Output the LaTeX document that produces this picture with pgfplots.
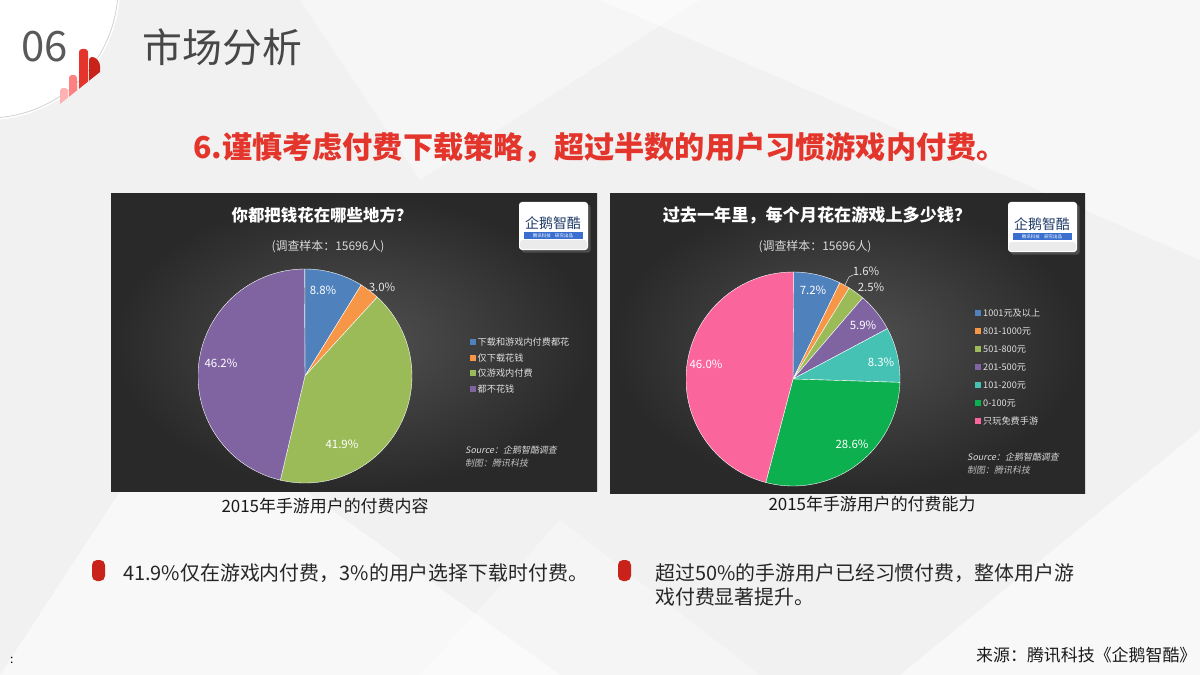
\documentclass[border=0pt]{standalone}
\usepackage{pgfplots}
\pgfplotsset{compat=1.18}
\usepackage{pgfplotstable}
\usepackage{fontspec}
\setmainfont{Noto Sans CJK SC}
\newfontfamily\slantfont{Noto Sans CJK SC}[FakeSlant=0.2]
\usetikzlibrary{shadows}

\definecolor{pBlue}{HTML}{4F81BD}
\definecolor{pOrange}{HTML}{F79646}
\definecolor{pGreen}{HTML}{9BBB59}
\definecolor{pPurple}{HTML}{8064A2}
\definecolor{pTeal}{HTML}{45C2B3}
\definecolor{pDGreen}{HTML}{0DB04F}
\definecolor{pPink}{HTML}{FA659B}
\definecolor{titleRed}{HTML}{E3352B}
\definecolor{bulletRed}{HTML}{C8221A}
\definecolor{bgGray}{HTML}{F1F1F1}
\definecolor{logoNavy}{HTML}{1F3A68}
\definecolor{logoBlue}{HTML}{3A6FD0}

\pgfplotstableread{
value color
8.8 pBlue
3.0 pOrange
41.9 pGreen
46.2 pPurple
}\tabA
\pgfplotstableread{
value color
7.2 pBlue
1.6 pOrange
2.5 pGreen
5.9 pPurple
8.3 pTeal
28.6 pDGreen
46.0 pPink
}\tabB

\newcommand\pieslices[2]{%
  \pgfplotstablegetrowsof{#1}\pgfmathtruncatemacro\nrows{\pgfplotsretval-1}%
  \gdef\cum{0}%
  \pgfplotsforeachungrouped \i in {0,...,\nrows}{%
    \pgfplotstablegetelem{\i}{value}\of{#1}\let\pv\pgfplotsretval
    \pgfplotstablegetelem{\i}{color}\of{#1}\let\pc\pgfplotsretval
    \pgfmathsetmacro\sa{90-3.6*\cum}%
    \pgfmathsetmacro\ea{90-3.6*(\cum+\pv)}%
    \pgfmathsetmacro\cum{\cum+\pv}%
    \edef\temp{\noexpand\fill[\pc,draw=white,line width=0.4pt] (axis cs:0,0) -- ++(\sa:#2) arc[start angle=\sa,end angle=\ea,radius=#2] -- cycle;}%
    \temp
  }%
}

\newcommand\fs[1]{\fontsize{#1}{#1}\selectfont}

\begin{document}
\begin{tikzpicture}[x=1bp,y=-1bp]
\useasboundingbox (0,0) rectangle (1200,675);
\coordinate (cA) at (305,376);
\coordinate (cB) at (793,379);
% slide background
\fill[bgGray] (0,0) rectangle (1200,675);
\fill[white,opacity=0.55] (0,675) -- (180,400) -- (560,675) -- cycle;
\fill[white,opacity=0.45] (600,0) -- (1200,0) -- (1200,260) -- cycle;
\fill[white,opacity=0.4] (300,0) -- (700,0) -- (420,180) -- cycle;
\fill[white,opacity=0.5] (900,675) -- (1200,430) -- (1200,675) -- cycle;
\fill[white,opacity=0.35] (560,520) -- (760,675) -- (420,675) -- cycle;
% top-left circle
\fill[white] (-12,-12) circle[radius=132];
\draw[black!18, line width=0.8pt] (-12,-12) circle[radius=130];
% red bars icon
\fill[red!30!white] (60,104) [rounded corners=3]-- (60,88) -- (68,88) [sharp corners]-- (68,97.6) -- cycle;
\fill[red!50!white] (69,96.8) [rounded corners=3]-- (69,75) -- (77,75) [sharp corners]-- (77,90.4) -- cycle;
\fill[titleRed] (79,88.8) [rounded corners=3]-- (79,49) -- (88,49) [sharp corners]-- (88,81.6) -- cycle;
\fill[bulletRed] (89,80.8) [rounded corners=3]-- (89,57) -- (95,57) -- (100,63) [sharp corners]-- (100,72) -- cycle;
\node[anchor=west, text=black!65, font=\fs{42}] at (18,47) {06};
\node[anchor=west, text=black!72, font=\fs{40}] at (139,47) {市场分析};
\node[text=titleRed, font=\fs{30.3}\bfseries] at (600,148) {6.谨慎考虑付费下载策略，超过半数的用户习惯游戏内付费。};

% ---------- left panel ----------
\shade[inner color=black!68, outer color=black!84] (111,194) rectangle (597,491);
\node[text=white, font=\fs{16.5}\bfseries] at (322,215) {你都把钱花在哪些地方？};
\node[text=white!85!black, font=\fs{12}] at (328,247) {(调查样本：15696人)};
% logo
\fill[white, rounded corners=3, drop shadow={opacity=0.4}] (519,202) rectangle (588,250);
\fill[black!8, rounded corners=3] (520,240) rectangle (587,249);
\node[text=logoNavy, font=\fs{14}] at (553,223) {企鹅智酷};
\fill[logoBlue] (524,232) rectangle (583,239);
\node[text=white, font=\fs{4.5}] at (553,235.5) {腾讯科技\quad 研究出品};

\begin{axis}[at={(cA)}, anchor=center, hide axis, scale only axis,
  width=214bp, height=214bp, xmin=-1, xmax=1, ymin=-1, ymax=1]
\pieslices{\tabA}{107bp}
\end{axis}
\begin{scope}[text=white, font=\fs{11.5}]
\node at (323,290) {8.8\%};
\node[text=white!90!black] at (382,287) {3.0\%};
\node at (342,444) {41.9\%};
\node at (221,363) {46.2\%};
\end{scope}
% legend
\foreach \y/\c/\t in {342/pBlue/下载和游戏内付费都花, 358/pOrange/仅下载花钱, 373/pGreen/仅游戏内付费, 389/pPurple/都不花钱}{
  \fill[\c] (469.5,\y-3) rectangle +(6,6);
  \node[anchor=west, text=white!88!black, font=\fs{9.2}, inner xsep=1.5bp] at (476,\y) {\t};
}
\node[anchor=west, text=white!85!black, font=\fs{9}\slantfont, inner sep=0] at (465,450) {Source：企鹅智酷调查};
\node[anchor=west, text=white!75!black, font=\fs{9}\slantfont, inner sep=0] at (465,463) {制图：腾讯科技};
\node[text=black!90, font=\fs{17}] at (325,506) {2015年手游用户的付费内容};

% ---------- right panel ----------
\shade[inner color=black!68, outer color=black!84] (610,194) rectangle (1085,493);
\node[text=white, font=\fs{17.2}\bfseries] at (817,215) {过去一年里，每个月花在游戏上多少钱？};
\node[text=white!85!black, font=\fs{12}] at (815,247) {(调查样本：15696人)};
\fill[white, rounded corners=3, drop shadow={opacity=0.4}] (1008,202) rectangle (1077,252);
\fill[black!8, rounded corners=3] (1009,242) rectangle (1076,251);
\node[text=logoNavy, font=\fs{14}] at (1042,224) {企鹅智酷};
\fill[logoBlue] (1013,233) rectangle (1072,240);
\node[text=white, font=\fs{4.5}] at (1042,236.5) {腾讯科技\quad 研究出品};

\begin{axis}[at={(cB)}, anchor=center, hide axis, scale only axis,
  width=214bp, height=214bp, xmin=-1, xmax=1, ymin=-1, ymax=1]
\pieslices{\tabB}{107bp}
\end{axis}
\draw[white!85!black, line width=0.5pt] (845,285) -- (849,277) -- (853,275);
\begin{scope}[text=white, font=\fs{11.5}]
\node at (813,290) {7.2\%};
\node[text=white!90!black] at (866,271) {1.6\%};
\node[text=white!90!black] at (871,287) {2.5\%};
\node at (863,325) {5.9\%};
\node at (881,362) {8.3\%};
\node at (852,444) {28.6\%};
\node at (706,364) {46.0\%};
\end{scope}
\foreach \y/\c/\t in {313/pBlue/1001元及以上, 331/pOrange/801-1000元, 349/pGreen/501-800元, 367/pPurple/201-500元, 385/pTeal/101-200元, 403/pDGreen/0-100元, 421/pPink/只玩免费手游}{
  \fill[\c] (975,\y-3) rectangle +(6,6);
  \node[anchor=west, text=white!88!black, font=\fs{9.2}, inner xsep=1.5bp] at (981.5,\y) {\t};
}
\node[anchor=west, text=white!85!black, font=\fs{9}\slantfont, inner sep=0] at (967,457) {Source：企鹅智酷调查};
\node[anchor=west, text=white!75!black, font=\fs{9}\slantfont, inner sep=0] at (967,470) {制图：腾讯科技};
\node[text=black!90, font=\fs{17}] at (872,504) {2015年手游用户的付费能力};

% ---------- bullets ----------
\fill[bulletRed, rounded corners=5] (92,560) rectangle (105,581);
\node[anchor=west, inner sep=0, text=black!85, font=\fs{20}] at (123,573) {41.9\%仅在游戏内付费，3\%的用户选择下载时付费。};
\fill[bulletRed, rounded corners=5] (618,560) rectangle (631,581);
\node[anchor=west, inner sep=0, text=black!85, font=\fs{20}] at (655,573) {超过50\%的手游用户已经习惯付费，整体用户游};
\node[anchor=west, inner sep=0, text=black!85, font=\fs{20}] at (655,597) {戏付费显著提升。};
\node[anchor=west, inner sep=0, text=black!90, font=\fs{17}] at (976,655) {来源：腾讯科技《企鹅智酷》};
\node[anchor=west, inner sep=0, font=\fs{12}] at (10,660) {:};
\end{tikzpicture}
\end{document}
